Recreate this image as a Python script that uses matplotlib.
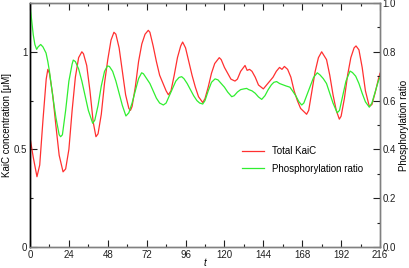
import matplotlib
matplotlib.use("Agg")
import matplotlib.pyplot as plt
from matplotlib.ticker import MultipleLocator

plt.rcParams['font.family'] = ['Liberation Sans', 'DejaVu Sans']

# Total KaiC concentration [uM] (left axis)
kaic_t = [0, 2, 4.3, 6, 8, 10, 11, 12, 14, 16, 18, 20.4, 22, 24, 26, 28, 30, 32, 33, 35,
          37, 39, 40.7, 42, 44, 46, 48, 50, 51.8, 53, 55, 57, 59, 61, 62, 63, 65, 67, 69,
          71, 73, 74, 76, 78, 80, 82, 84, 85.4, 87, 89, 91, 93, 94.2, 96, 98, 100, 102,
          104, 106.6, 108, 110, 112, 114, 116.8, 118, 120, 122, 124, 126.5, 128, 130,
          132.7, 134, 135.5, 137, 139, 141, 144, 146, 148, 150, 152, 154, 155.5, 157, 159,
          161, 163, 165, 167, 170.7, 172, 174, 176, 178, 180, 181.5, 183, 185, 187, 189,
          190.9, 192, 194, 196, 198, 200, 201.2, 203, 205, 207, 209.4, 211, 213, 215, 216]
kaic_v = [0.56, 0.46, 0.36, 0.42, 0.65, 0.86, 0.91, 0.89, 0.78, 0.62, 0.47, 0.385, 0.40,
          0.50, 0.70, 0.87, 0.97, 1.00, 0.99, 0.93, 0.80, 0.64, 0.565, 0.58, 0.68, 0.84,
          0.96, 1.06, 1.10, 1.09, 1.02, 0.90, 0.78, 0.71, 0.70, 0.72, 0.82, 0.95, 1.04,
          1.09, 1.11, 1.10, 1.03, 0.95, 0.88, 0.84, 0.80, 0.78, 0.80, 0.88, 0.97, 1.03,
          1.05, 1.02, 0.95, 0.88, 0.82, 0.77, 0.74, 0.76, 0.82, 0.89, 0.94, 0.97, 0.96,
          0.92, 0.89, 0.86, 0.85, 0.86, 0.90, 0.93, 0.905, 0.91, 0.90, 0.87, 0.83, 0.81,
          0.83, 0.85, 0.87, 0.90, 0.92, 0.91, 0.925, 0.91, 0.87, 0.80, 0.75, 0.71, 0.68,
          0.70, 0.80, 0.90, 0.97, 1.00, 0.98, 0.96, 0.88, 0.78, 0.70, 0.655, 0.67, 0.76,
          0.88, 0.97, 1.02, 1.03, 1.01, 0.92, 0.80, 0.72, 0.73, 0.79, 0.86, 0.89]

# Phosphorylation ratio (right axis)
phos_t = [0, 1, 2, 3, 4.1, 5, 6.6, 8, 9.9, 11, 12, 14, 16, 18, 18.9, 20, 22, 24, 26, 26.7,
          28, 30, 32, 34, 36, 38.7, 40, 42, 44, 46, 47.8, 49, 51, 53, 55, 57, 59.2, 61, 63,
          65, 67, 68.9, 70, 72, 74, 76, 78, 80, 82.3, 84, 86, 88, 90, 92, 93.6, 95, 97, 99,
          101, 103, 104.7, 106.6, 108, 110, 112, 114.2, 116, 118, 120, 122, 124.5, 126, 128,
          130, 132, 133.7, 135, 137, 139, 141, 143, 145, 147, 149, 150.5, 152.2, 154, 156,
          158, 160.4, 162, 164, 166, 167.7, 169, 171, 173, 175, 177.3, 179, 181, 183, 185,
          187, 189.6, 191, 193, 195, 197.5, 199, 201, 203, 205, 207, 209.4, 211, 213, 215, 216]
phos_v = [0.99, 0.93, 0.87, 0.83, 0.81, 0.82, 0.83, 0.82, 0.795, 0.76, 0.72, 0.62, 0.53,
          0.46, 0.452, 0.46, 0.56, 0.68, 0.75, 0.766, 0.76, 0.73, 0.68, 0.62, 0.56, 0.507,
          0.52, 0.58, 0.66, 0.72, 0.742, 0.74, 0.72, 0.68, 0.63, 0.58, 0.537, 0.55, 0.59,
          0.64, 0.69, 0.714, 0.71, 0.69, 0.67, 0.64, 0.61, 0.59, 0.582, 0.59, 0.62, 0.65,
          0.68, 0.695, 0.698, 0.69, 0.67, 0.645, 0.62, 0.60, 0.59, 0.586, 0.60, 0.64, 0.675,
          0.689, 0.685, 0.67, 0.655, 0.635, 0.616, 0.62, 0.635, 0.645, 0.648, 0.65, 0.645,
          0.64, 0.63, 0.615, 0.605, 0.62, 0.645, 0.665, 0.675, 0.678, 0.67, 0.665, 0.66,
          0.655, 0.64, 0.62, 0.595, 0.582, 0.59, 0.625, 0.66, 0.695, 0.714, 0.705, 0.69,
          0.67, 0.63, 0.59, 0.55, 0.56, 0.62, 0.68, 0.721, 0.715, 0.70, 0.67, 0.63, 0.595,
          0.573, 0.59, 0.635, 0.68, 0.695]

x_ticks = list(range(0, 217, 24))
left_ticks = [0, 0.5, 1]
left_labels = ["0", "0.5", "1"]
right_ticks = [0.0, 0.2, 0.4, 0.6, 0.8, 1.0]
right_labels = ["0.0", "0.2", "0.4", "0.6", "0.8", "1.0"]

fig = plt.figure(figsize=(4.09, 2.68), dpi=100)
ax = fig.add_axes([30/409, 1-247/268, 350/409, 244/268])
ax2 = ax.twinx()

red = '#ff3030'
green = '#30ee30'
grey = '#808080'

l1, = ax.plot(kaic_t, kaic_v, color=red, lw=0.9, label='Total KaiC')
l2, = ax2.plot(phos_t, phos_v, color=green, lw=0.9, label='Phosphorylation ratio')

ax.set_xlim(0, 216)
ax.set_ylim(0, 1.25)
ax2.set_ylim(0, 1.0)

fs = 7
ax.set_xticks(x_ticks)
ax.set_xticklabels([str(v) for v in x_ticks], fontsize=fs)
ax.xaxis.set_minor_locator(MultipleLocator(12))
ax.set_yticks(left_ticks)
ax.set_yticklabels(left_labels, fontsize=fs)
ax.yaxis.set_minor_locator(MultipleLocator(0.25))
ax2.set_yticks(right_ticks)
ax2.set_yticklabels(right_labels, fontsize=fs)
ax2.yaxis.set_minor_locator(MultipleLocator(0.1))

ax.tick_params(which='both', direction='in', top=True, colors='#202020', pad=2)
ax.tick_params(which='major', length=5, width=0.8)
ax.tick_params(which='minor', length=2.5, width=0.8)
ax2.tick_params(which='both', direction='in', colors='#202020', pad=2)
ax2.tick_params(which='major', length=5, width=0.8)
ax2.tick_params(which='minor', length=2.5, width=0.8)

for a in (ax, ax2):
    for s in ('top', 'right', 'bottom'):
        a.spines[s].set_color(grey)
        a.spines[s].set_linewidth(1.0)
    a.spines['left'].set_color('black')
    a.spines['left'].set_linewidth(1.0)

ax.set_xlabel('t', fontsize=fs, style='italic', labelpad=-1)
ax.set_ylabel('KaiC concentration [\u03bcM]', fontsize=fs, labelpad=1.5)
ax2.set_ylabel('Phosphorylation ratio', fontsize=fs, labelpad=2)

ax.legend(handles=[l1, l2], loc='upper left', bbox_to_anchor=(0.595, 0.43),
          frameon=False, fontsize=fs, handlelength=2.2, handletextpad=0.9,
          labelspacing=0.8, borderaxespad=0)

fig.savefig('out.png', dpi=100)
